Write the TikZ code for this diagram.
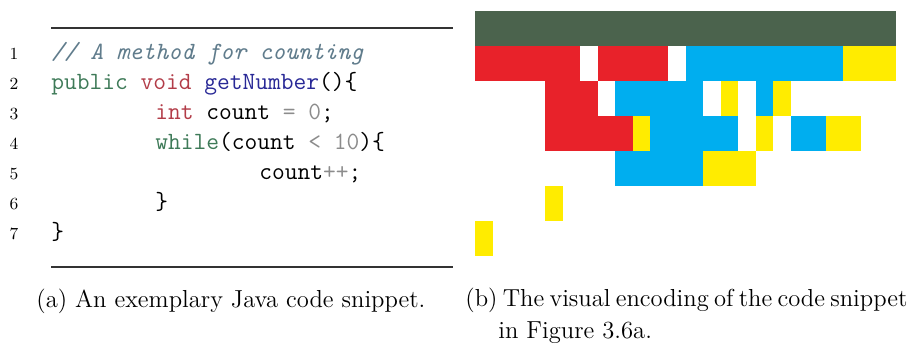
\documentclass[tikz,border=0pt]{standalone}
\usepackage{fontspec}
\definecolor{kwgreen}{RGB}{62,122,88}
\definecolor{kwred}{RGB}{178,60,72}
\definecolor{fnblue}{RGB}{40,40,150}
\definecolor{cmtgray}{RGB}{96,124,140}
\definecolor{opgray}{RGB}{140,140,140}
\definecolor{encgreen}{RGB}{75,99,77}
\definecolor{encred}{RGB}{232,34,42}
\definecolor{encblue}{RGB}{0,174,239}
\definecolor{encyellow}{RGB}{255,236,0}
% one run of cells in the encoding grid: row, first column, end column, colour
\newcommand\encrun[4]{\fill[#4] ({475+17.5417*#2},{11+35*#1}) rectangle ({475+17.5417*#3},{11+35*(#1+1)});}
\begin{document}
\begin{tikzpicture}[x=0.5pt,y=-0.5pt,
  codeline/.style={anchor=base west,inner sep=0pt,font=\fontsize{12.38}{14}\selectfont\ttfamily},
  lineno/.style={anchor=base,inner sep=0pt,font=\fontsize{8.5}{10}\selectfont},
  caption/.style={anchor=base west,inner sep=0pt,font=\fontsize{12.3}{14}\selectfont}]
\useasboundingbox (0,0) rectangle (912,347);

% code listing rules
\draw[line width=0.6pt,black!80] (51,28) -- (453,28);
\draw[line width=0.6pt,black!80] (51,267) -- (453,267);

% line numbers
\foreach \i in {1,...,7}
  \node[lineno] (n\i) at (14,{60+30*(\i-1)}) {\i};

% code lines
\node[codeline] (c1) at (51,60) {\color{cmtgray}\itshape //~A~method~for~counting};
\node[codeline] (c2) at (51,90) {\color{kwgreen}public~\color{kwred}void~\color{fnblue}getNumber\color{black}()\{};
\node[codeline] (c3) at (155,120) {\color{kwred}int~\color{black}count~\color{opgray}=~0\color{black};};
\node[codeline] (c4) at (155,150) {\color{kwgreen}while\color{black}(count~\color{opgray}<~10\color{black})\{};
\node[codeline] (c5) at (259,180) {count\color{opgray}++\color{black};};
\node[codeline] (c6) at (155,210) {\}};
\node[codeline] (c7) at (51,240) {\}};

% visual encoding grid
\encrun{0}{0}{24}{encgreen}
\encrun{1}{0}{6}{encred}
\encrun{1}{7}{11}{encred}
\encrun{1}{12}{21}{encblue}
\encrun{1}{21}{24}{encyellow}
\encrun{2}{4}{7}{encred}
\encrun{2}{8}{13}{encblue}
\encrun{2}{14}{15}{encyellow}
\encrun{2}{16}{17}{encblue}
\encrun{2}{17}{18}{encyellow}
\encrun{3}{4}{9}{encred}
\encrun{3}{9}{10}{encyellow}
\encrun{3}{10}{15}{encblue}
\encrun{3}{16}{17}{encyellow}
\encrun{3}{18}{20}{encblue}
\encrun{3}{20}{22}{encyellow}
\encrun{4}{8}{13}{encblue}
\encrun{4}{13}{16}{encyellow}
\encrun{5}{4}{5}{encyellow}
\encrun{6}{0}{1}{encyellow}

% sub-captions
\node[caption] (capa) at (36,308) {\spaceskip=0.33em plus 0.5em minus 0.1em\makebox[194.5pt][s]{(a) An exemplary Java code snippet.}};
\node[caption] (capb1) at (465,307) {\spaceskip=0.22em plus 0.5em minus 0.1em\makebox[221pt][s]{(b) The visual encoding of the code snippet}};
\node[caption] (capb2) at (498,339) {in Figure 3.6a.};
\end{tikzpicture}
\end{document}
